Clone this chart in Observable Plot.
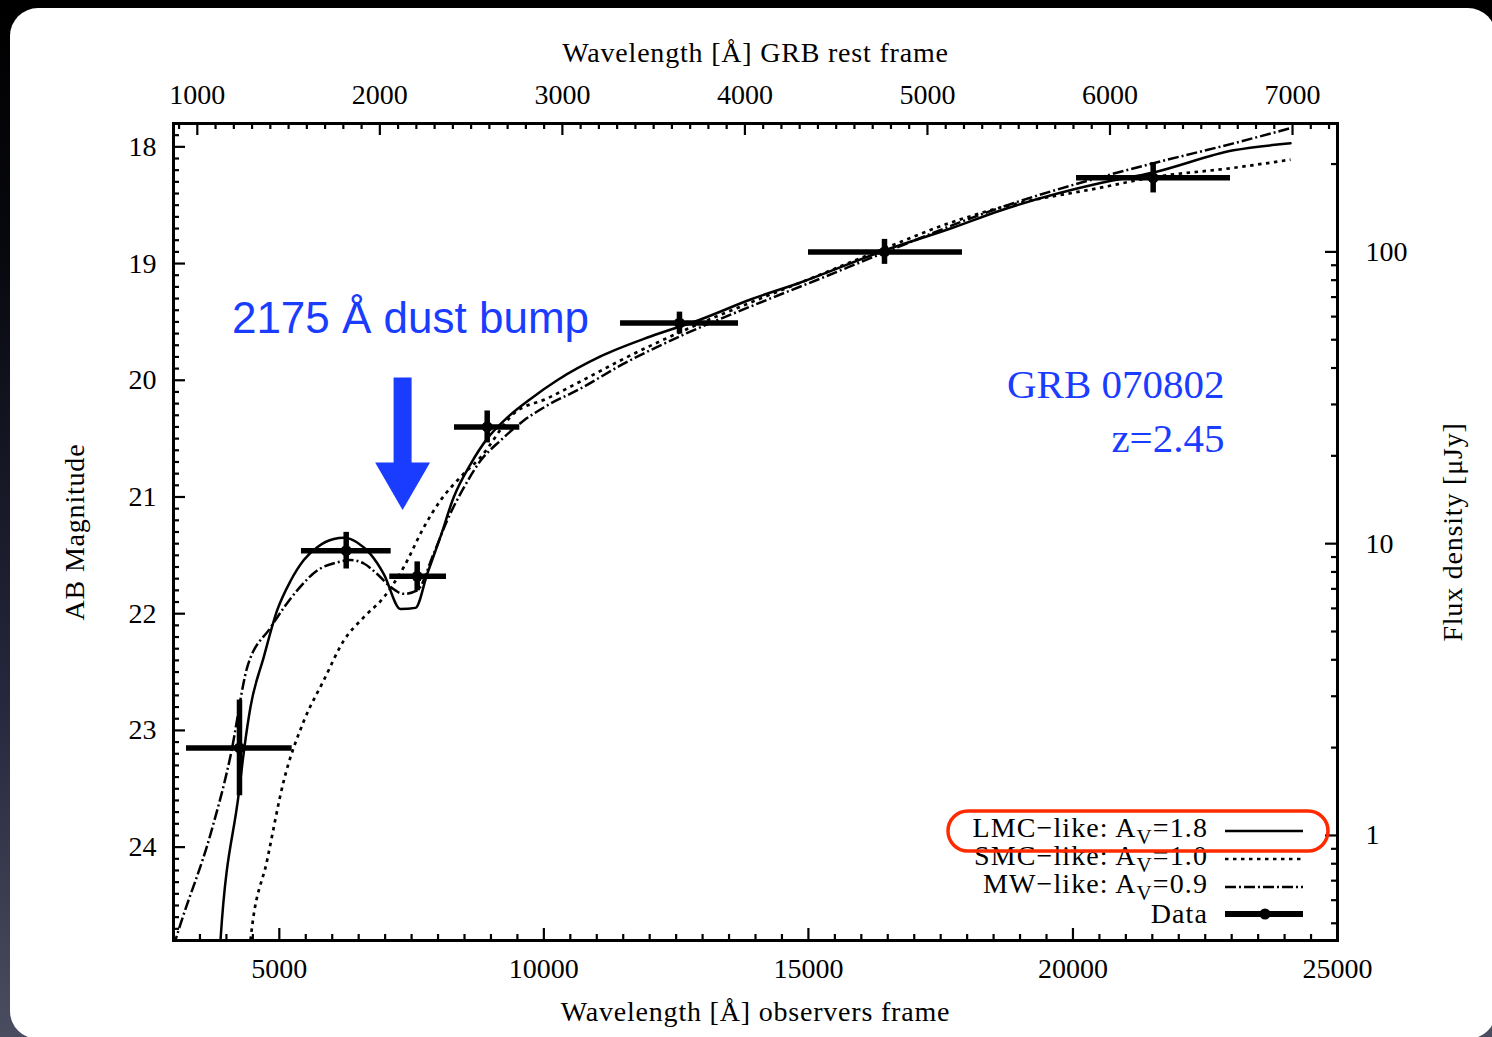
<!DOCTYPE html>
<html><head><meta charset="utf-8">
<script src="https://cdn.jsdelivr.net/npm/d3@7"></script>
<script src="https://cdn.jsdelivr.net/npm/@observablehq/plot@0.6"></script>
<style>
html,body{margin:0;padding:0;width:1492px;height:1037px;overflow:hidden;
  background:linear-gradient(to bottom,#000 0%,#08090f 25%,#23253a 65%,#4a4d60 100%);}
#panel{position:absolute;left:10px;top:8px;width:1486px;height:1031px;background:#fff;border-radius:28px;}
#chart{position:absolute;left:0;top:0;}
#legend{position:absolute;left:0;top:0;pointer-events:none;font-family:'Liberation Serif',serif;}
</style></head><body>
<div id="panel"></div>
<div id="chart"></div>
<svg id="legend" width="1492" height="1037">
  <g font-size="28" text-anchor="end" fill="#000" letter-spacing="1.1">
    <text x="1208" y="837">LMC−like: A<tspan dy="7" font-size="21">V</tspan><tspan dy="-7">=1.8</tspan></text>
    <text x="1208" y="865">SMC−like: A<tspan dy="7" font-size="21">V</tspan><tspan dy="-7">=1.0</tspan></text>
    <text x="1208" y="893">MW−like: A<tspan dy="7" font-size="21">V</tspan><tspan dy="-7">=0.9</tspan></text>
    <text x="1208" y="923">Data</text>
  </g>
  <line x1="1225" x2="1303" y1="831" y2="831" stroke="#000" stroke-width="2.5"/>
  <line x1="1225" x2="1303" y1="859" y2="859" stroke="#000" stroke-width="2.7" stroke-dasharray="3.5,4.5"/>
  <line x1="1225" x2="1303" y1="887" y2="887" stroke="#000" stroke-width="2.5" stroke-dasharray="11,3,2,3"/>
  <line x1="1225" x2="1303" y1="914" y2="914" stroke="#000" stroke-width="6"/>
  <circle cx="1265" cy="914" r="5.5" fill="#000"/>
  <rect x="948" y="811" width="380" height="40" rx="20" ry="20" fill="none" stroke="#ff2a00" stroke-width="3.5"/>
</svg>
<script>
// ---------------- data ----------------
const redshift = 2.45;

// photometric data (observed wavelength, filter extent, AB magnitude, error)
const bandLam = [4247, 6264, 7606, 8929, 12563, 16438, 21516];
const bandLo  = [3246, 5419, 7088, 8311, 11449, 15002, 20067];
const bandHi  = [5243, 7114, 8160, 9545, 13679, 17912, 22978];
const bandMag = [23.15, 21.46, 21.68, 20.40, 19.51, 18.90, 18.265];
const bandErr = [0.41, 0.157, 0.124, 0.137, 0.094, 0.107, 0.13];

// LMC-like model (solid)
const lmcLam = [3860, 3888, 4234, 4342, 4455, 4707, 4960, 5211, 5463, 5716, 6030, 6219, 6472, 6723, 6975, 7291, 7574, 7795, 8046, 8298, 8613, 8929, 9307, 9747, 10252, 11070, 12015, 12961, 13906, 14851, 16438, 17686, 18631, 20521, 21522, 23034, 24112];
const lmcMag = [25.0, 24.8, 23.54, 23.14, 22.80, 22.37, 21.97, 21.72, 21.54, 21.43, 21.36, 21.35, 21.39, 21.49, 21.66, 21.96, 21.95, 21.66, 21.34, 21.00, 20.72, 20.50, 20.32, 20.16, 20.00, 19.796, 19.625, 19.479, 19.308, 19.162, 18.888, 18.70, 18.545, 18.31, 18.22, 18.03, 17.97];

// SMC-like model (dotted)
const smcLam = [4420, 4455, 4771, 5085, 5463, 5841, 6219, 6597, 6975, 7353, 7731, 8046, 8424, 8802, 9432, 10062, 10692, 11448, 12563, 13906, 15229, 16438, 17686, 18631, 20521, 21522, 23034, 24112];
const smcMag = [25.0, 24.8, 24.11, 23.43, 22.92, 22.57, 22.23, 22.03, 21.86, 21.60, 21.26, 21.03, 20.83, 20.66, 20.285, 20.156, 20.01, 19.83, 19.59, 19.334, 19.094, 18.87, 18.65, 18.52, 18.35, 18.26, 18.18, 18.11];

// MW-like model (dash-dot)
const mwLam = [3000, 3132, 3699, 4077, 4393, 4833, 5338, 5716, 6094, 6345, 6597, 6850, 7101, 7353, 7606, 7914, 8173, 8487, 8802, 9180, 9621, 10062, 10692, 11448, 12563, 13906, 15229, 16438, 18631, 20521, 21522, 23034, 24112];
const mwMag = [24.85, 24.66, 23.89, 23.22, 22.46, 22.12, 21.80, 21.63, 21.56, 21.54, 21.57, 21.66, 21.77, 21.83, 21.80, 21.49, 21.20, 20.92, 20.69, 20.516, 20.345, 20.216, 20.071, 19.873, 19.625, 19.368, 19.128, 18.905, 18.52, 18.26, 18.14, 17.97, 17.84];

// axis ticks
const obsTicks  = [5000, 10000, 15000, 20000, 25000];
const restTicks = [1000, 2000, 3000, 4000, 5000, 6000, 7000];
const magTicks  = [18, 19, 20, 21, 22, 23, 24];
const fluxTicks = [1, 10, 100];
const fluxMinor = [0.5, 0.6, 0.7, 0.8, 0.9, 2, 3, 4, 5, 6, 7, 8, 9, 20, 30, 40, 50, 60, 70, 80, 90, 200];

// annotations
const blue = "#1a3cff";
const bumpLabel = [{lam: 7479, mag: 19.47, text: "2175 Å dust bump"}];
const grbLabel = [{lam: 22864, mag: 20.04, text: "GRB 070802"}, {lam: 22864, mag: 20.50, text: "z=2.45"}];
const arrowShaft = [{lam: 7330, top: 19.98, bottom: 20.75}];
const arrowHead = [{lam: 7330, mag: 20.84}];

// ---------------- build ----------------
const zip = (l, m) => l.map((v, i) => ({lam: v, mag: m[i]}));
const lmc = zip(lmcLam, lmcMag), smc = zip(smcLam, smcMag), mw = zip(mwLam, mwMag);
const data = bandLam.map((v, i) => ({lam: v, lo: bandLo[i], hi: bandHi[i], mag: bandMag[i], err: bandErr[i]}));

const fw = 1164, fh = 817;
const toMag = f => 23.9 - 2.5 * Math.log10(f);
const obsMinor = d3.range(3000, 25001, 500).filter(v => !obsTicks.includes(v));
const restMinor = d3.range(900, 7250, 100).filter(v => !restTicks.includes(v));
const magMinor = d3.range(178, 249).map(v => v / 10).filter(v => !magTicks.includes(v));
const tickW = 2.2;
const serif = "'Liberation Serif', serif";
const mid = {lineAnchor: "middle", fontSize: 28};

const plot = Plot.plot({
  width: 1492, height: 1037,
  marginLeft: 173, marginRight: 155, marginTop: 123, marginBottom: 97,
  x: {domain: [3000, 25000], axis: null},
  y: {domain: [17.8, 24.8], reverse: true, axis: null},
  style: {background: "transparent", fontFamily: serif, fontSize: "28px", color: "#000", overflow: "visible"},
  marks: [
    // model curves
    Plot.line(lmc, {x: "lam", y: "mag", stroke: "#000", strokeWidth: 2.5, curve: "monotone-x", clip: true}),
    Plot.line(smc, {x: "lam", y: "mag", stroke: "#000", strokeWidth: 2.7, strokeDasharray: "3.5,4.5", strokeLinecap: "butt", curve: "monotone-x", clip: true}),
    Plot.line(mw, {x: "lam", y: "mag", stroke: "#000", strokeWidth: 2.5, strokeDasharray: "11,3,2,3", strokeLinecap: "butt", curve: "monotone-x", clip: true}),
    // data
    Plot.ruleY(data, {y: "mag", x1: "lo", x2: "hi", stroke: "#000", strokeWidth: 5.5}),
    Plot.ruleX(data, {x: "lam", y1: d => d.mag - d.err, y2: d => d.mag + d.err, stroke: "#000", strokeWidth: 5.5}),
    Plot.dot(data, {x: "lam", y: "mag", r: 5.5, fill: "#000"}),
    // annotations
    Plot.text(bumpLabel, {x: "lam", y: "mag", text: "text", fill: blue, fontSize: 44, fontFamily: "'Liberation Sans', Arial, sans-serif"}),
    Plot.ruleX(arrowShaft, {x: "lam", y1: "top", y2: "bottom", stroke: blue, strokeWidth: 18}),
    Plot.dot(arrowHead, {x: "lam", y: "mag", symbol: "triangle", rotate: 180, r: 20.4, fill: blue, stroke: "none"}),
    Plot.text(grbLabel, {x: "lam", y: "mag", text: "text", textAnchor: "end", fill: blue, fontSize: 41, fontFamily: serif}),
    // bottom ticks (observed frame)
    Plot.tickX(obsMinor, {x: d => d, insetTop: fh - 6, strokeWidth: tickW}),
    Plot.tickX(obsTicks, {x: d => d, insetTop: fh - 12, strokeWidth: tickW}),
    Plot.text(obsTicks, {x: d => d, frameAnchor: "bottom", dy: 29, text: d => String(d), ...mid}),
    // top ticks (rest frame)
    Plot.tickX(restMinor, {x: d => d * (1 + redshift), insetBottom: fh - 6, strokeWidth: tickW}),
    Plot.tickX(restTicks, {x: d => d * (1 + redshift), insetBottom: fh - 12, strokeWidth: tickW}),
    Plot.text(restTicks, {x: d => d * (1 + redshift), frameAnchor: "top", dy: -28, text: d => String(d), ...mid}),
    // left ticks (AB mag)
    Plot.tickY(magMinor, {y: d => d, insetRight: fw - 6, strokeWidth: tickW}),
    Plot.tickY(magTicks, {y: d => d, insetRight: fw - 12, strokeWidth: tickW}),
    Plot.text(magTicks, {y: d => d, frameAnchor: "left", dx: -17, textAnchor: "end", text: d => String(d), ...mid}),
    // right ticks (flux density)
    Plot.tickY(fluxMinor, {y: toMag, insetLeft: fw - 6, strokeWidth: tickW}),
    Plot.tickY(fluxTicks, {y: toMag, insetLeft: fw - 12, strokeWidth: tickW}),
    Plot.text(fluxTicks, {y: toMag, frameAnchor: "right", dx: 28, textAnchor: "start", text: d => String(d), ...mid}),
    // axis titles
    Plot.text(["Wavelength [Å] observers frame"], {frameAnchor: "bottom", dy: 72, text: d => d, textAnchor: "middle", ...mid}),
    Plot.text(["Wavelength [Å] GRB rest frame"], {frameAnchor: "top", dy: -70, text: d => d, textAnchor: "middle", ...mid}),
    Plot.text(["AB Magnitude"], {frameAnchor: "left", rotate: -90, dx: -98, text: d => d, textAnchor: "middle", ...mid}),
    Plot.text(["Flux density [μJy]"], {frameAnchor: "right", rotate: -90, dx: 116, text: d => d, textAnchor: "middle", ...mid}),
    Plot.frame({stroke: "#000", strokeWidth: 3})
  ]
});
// widen the axis titles slightly to match the reference typeface
plot.querySelectorAll("text").forEach(t => {
  if (/Wavelength|Magnitude|Flux/.test(t.textContent)) t.setAttribute("letter-spacing", "0.8");
});
document.getElementById("chart").appendChild(plot);
</script>
</body></html>
